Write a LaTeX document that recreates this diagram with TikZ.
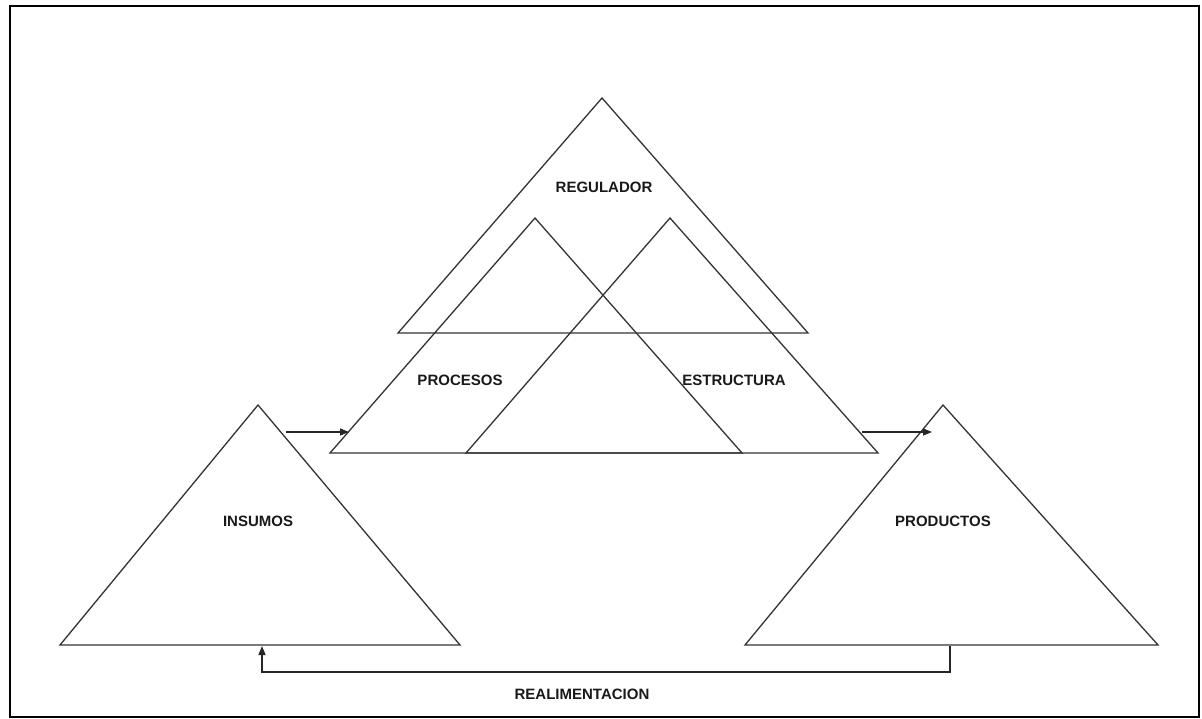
\documentclass[tikz,border=0pt]{standalone}
\usepackage{fontspec}
\setmainfont{Liberation Sans}
\usetikzlibrary{arrows.meta}
\begin{document}
\begin{tikzpicture}[x=1pt,y=-1pt,
  tri/.style={draw=black!80, line width=1.3pt, line join=miter},
  conn/.style={draw=black!85, line width=1.4pt, -{Triangle[length=9pt,width=7pt]}},
  lbl/.style={font=\bfseries\fontsize{15}{15}\selectfont, text=black!90, inner sep=0pt}]
\useasboundingbox (0,0) rectangle (1202,719);
\draw[line width=2pt] (10,6) rectangle (1199,717);
% triangles
\draw[tri] (602,98) -- (808,333) -- (398,333) -- cycle;
\draw[tri] (535,218) -- (742,453) -- (330,453) -- cycle;
\draw[tri] (670,218) -- (878,453) -- (466,453) -- cycle;
\draw[tri] (258,405) -- (460,645) -- (60,645) -- cycle;
\draw[tri] (943,405) -- (1158,645) -- (745,645) -- cycle;
% labels
\node[lbl] (reg) at (604,187) {REGULADOR};
\node[lbl] (proc) at (460,380) {PROCESOS};
\node[lbl] (est) at (734,380) {ESTRUCTURA};
\node[lbl] (ins) at (258,521) {INSUMOS};
\node[lbl] (prod) at (943,521) {PRODUCTOS};
\node[lbl] (real) at (582,694) {REALIMENTACION};
% connectors
\coordinate (insR) at (286,432);
\coordinate (procL) at (349,432);
\coordinate (estR) at (862,432);
\coordinate (prodL) at (932,432);
\coordinate (prodB) at (950,646);
\coordinate (insB) at (262,646);
\draw[conn] (insR) -- (procL);
\draw[conn] (estR) -- (prodL);
\draw[conn] (prodB) -- (950,672) -- (262,672) -- (insB);
\end{tikzpicture}
\end{document}
